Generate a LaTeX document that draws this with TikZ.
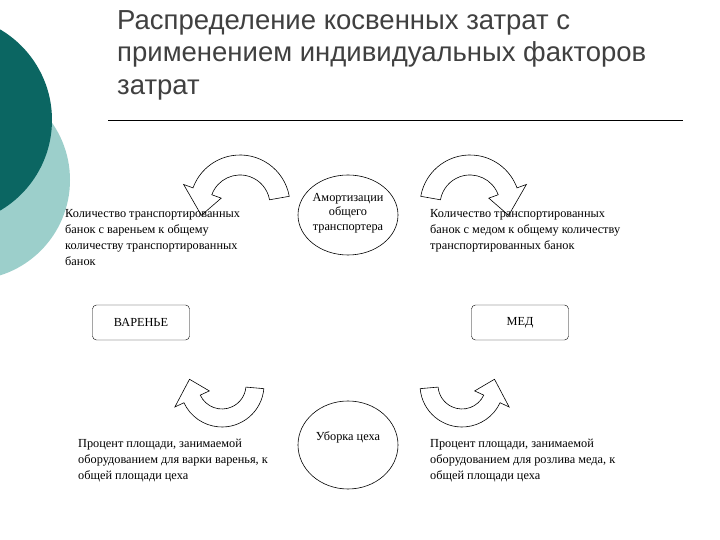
\documentclass[tikz,border=0pt]{standalone}
\usepackage{fontspec}
\setmainfont{Liberation Serif}
\newfontfamily\titlefont{Liberation Sans}
\begin{document}
\begin{tikzpicture}[x=1pt,y=1pt,
  txt/.style={anchor=north west,align=left,font=\fontsize{12.3}{16}\selectfont,inner sep=0pt},
  blk/.style={draw=black,fill=white,line width=0.6pt},
  box/.style={draw=black,rounded corners=4pt,minimum width=97pt,minimum height=35pt,font=\fontsize{12.3}{14}\selectfont},
  ell/.style={draw=black,line width=0.6pt}]
\useasboundingbox (0,0) rectangle (720,540);
\fill[white] (0,0) rectangle (720,540);
\begin{scope}
\clip (0,0) rectangle (720,540);
\fill[color={rgb,255:red,156;green,207;blue,203}] (-30,360) circle (100);
\fill[color={rgb,255:red,11;green,102;blue,98}] (-53,420) circle (105);
\end{scope}
\node[anchor=north west,align=left,inner sep=0pt,font=\titlefont\fontsize{27.5}{32.5}\selectfont,text=black!75] (title) at (117,530) {Распределение косвенных затрат с\\применением индивидуальных факторов\\затрат};
\draw[line width=0.6pt] (108,420) coordinate (l1) -- (683,420) coordinate (l2);
% curved arrows
\begin{scope}[shift={(240,335)}]
\draw[blk] (10:50) arc[start angle=10,end angle=160,radius=50] -- (160:60) -- (195:40) -- (160:20) -- (160:30) arc[start angle=160,end angle=10,radius=30] -- cycle;
\end{scope}
\begin{scope}[shift={(470,335)}]
\draw[blk] (170:50) arc[start angle=170,end angle=20,radius=50] -- (20:60) -- (-15:40) -- (20:20) -- (20:30) arc[start angle=20,end angle=170,radius=30] -- cycle;
\end{scope}
\begin{scope}[shift={(222,155)}]
\draw[blk] (-5:42) arc[start angle=-5,end angle=-155,radius=42] -- (-155:52) -- (-190:33) -- (-155:14) -- (-155:24) arc[start angle=-155,end angle=-5,radius=24] -- cycle;
\end{scope}
\begin{scope}[shift={(462,155)}]
\draw[blk] (185:42) arc[start angle=185,end angle=335,radius=42] -- (335:52) -- (370:33) -- (335:14) -- (335:24) arc[start angle=335,end angle=185,radius=24] -- cycle;
\end{scope}
\draw[ell] (348,325) ellipse[x radius=50,y radius=40];
\node[align=center,font=\fontsize{12.3}{14.5}\selectfont] (am) at (348,327) {Амортизации\\общего\\транспортера};
\draw[ell] (348,95) ellipse[x radius=50,y radius=44];
\node[font=\fontsize{12.3}{14}\selectfont] (ub) at (348,103) {Уборка цеха};
\node[box] (var) at (141,217.5) {ВАРЕНЬЕ};
\node[box] (med) at (520,217.5) {МЕД};
\node[txt] (t1) at (65,331) {Количество транспортированных\\банок с вареньем к общему\\количеству транспортированных\\банок};
\node[txt] (t2) at (430,331) {Количество транспортированных\\банок с медом к общему количеству\\транспортированных банок};
\node[txt] (t3) at (78,101) {Процент площади, занимаемой\\оборудованием для варки варенья, к\\общей площади цеха};
\node[txt] (t4) at (430,101) {Процент площади, занимаемой\\оборудованием для розлива меда, к\\общей площади цеха};
\end{tikzpicture}
\end{document}
